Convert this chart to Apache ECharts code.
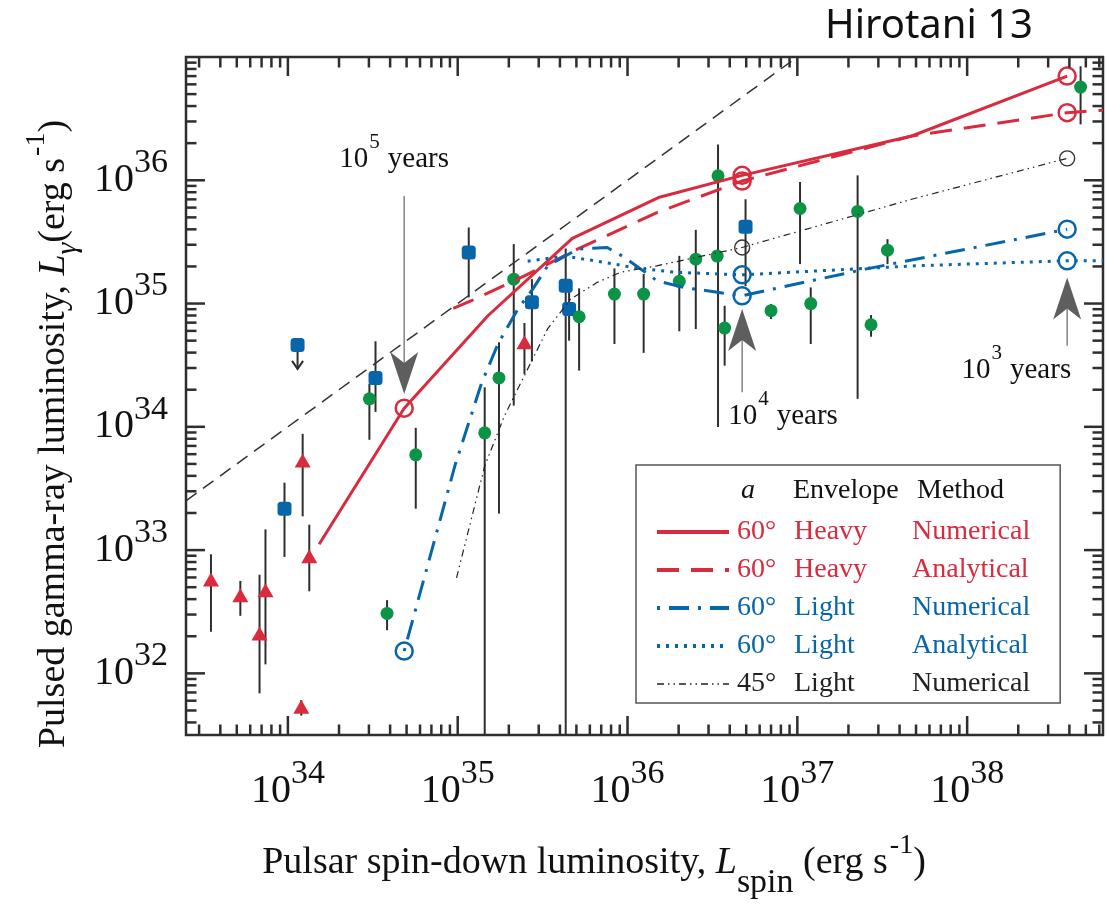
<!DOCTYPE html>
<html>
<head>
<meta charset="utf-8">
<script src="https://cdn.jsdelivr.net/npm/echarts@6/dist/echarts.min.js"></script>
<style>
  html, body { margin: 0; padding: 0; background: #fff; }
  #chart { width: 1106px; height: 905px; }
</style>
</head>
<body>
<div id="chart"></div>
<script>
// Pulsed gamma-ray luminosity vs. spin-down luminosity (log10 of erg s^-1 everywhere).

const X_MIN = 33.4, X_MAX = 38.8;
const Y_MIN = 31.5, Y_MAX = 37.0;
const xLabelPowers = [34, 35, 36, 37, 38];
const yLabelPowers = [32, 33, 34, 35, 36];
const tickDecadesX = [33, 34, 35, 36, 37, 38];
const tickDecadesY = [31, 32, 33, 34, 35, 36];
const tickMultiples = [1, 2, 3, 4, 5, 6, 7, 8, 9];

// Observed pulsars: red triangles
const triSpin  = [33.547, 33.720, 33.833, 33.868, 34.087, 34.126, 34.079, 35.393];
const triGamma = [32.761, 32.634, 32.324, 32.675, 33.727, 32.950, 31.730, 34.686];
const triLow   = [32.338, 32.467, 31.838, 32.073, 33.274, 32.666, 31.657, 34.429];
const triHigh  = [32.966, 32.750, 32.800, 33.168, 33.943, 33.206, 31.784, 34.842];

// Observed pulsars: blue squares (first one is an upper limit)
const sqSpin   = [34.057, 34.516, 33.980, 35.065, 35.437, 35.636, 35.656, 36.695];
const sqGamma  = [34.664, 34.397, 33.336, 35.414, 35.010, 35.144, 34.955, 35.622];
const sqLow    = [null,   34.121, 32.945, 35.050, 34.530, 31.000, 34.699, 35.142];
const sqHigh   = [null,   34.694, 33.547, 35.617, 35.198, 35.447, 35.117, 35.846];
const sqLimit  = [34.470, null,   null,   null,   null,   null,   null,   null];

// Observed pulsars: green dots
const dotSpin  = [34.480, 34.753, 34.584, 35.159, 35.243, 35.330, 35.715, 35.923, 36.095, 36.305, 36.402,
                  36.533, 36.528, 36.572, 36.845, 37.016, 37.079, 37.355, 37.434, 37.531, 38.668];
const dotGamma = [34.227, 33.773, 32.486, 33.951, 34.397, 35.198, 34.893, 35.077, 35.077, 35.180, 35.360,
                  36.036, 35.385, 34.801, 34.942, 35.771, 35.000, 35.747, 34.828, 35.433, 36.756];
const dotLow   = [33.895, 33.336, 32.350, 31.000, 33.296, 34.172, 34.456, 34.672, 34.600, 34.775, 34.793,
                  33.998, null,   34.496, 34.874, 35.320, 34.672, 34.227, 34.731, 35.320, 36.453];
const dotHigh  = [34.350, 33.992, 32.594, 34.321, 34.686, 35.482, 35.123, 35.285, 35.240, 35.387, 35.598,
                  36.291, null,   34.982, 34.996, 35.986, 35.131, 36.040, 34.907, 35.522, 36.925];

// Model curves
const heavyNumSpin  = [34.184, 34.685, 34.886, 35.178, 35.675, 36.182, 36.675, 37.674, 38.589];
const heavyNumGamma = [33.047, 34.151, 34.456, 34.901, 35.528, 35.860, 36.040, 36.359, 36.845];
const heavyAnaSpin  = [34.974, 35.081, 35.393, 35.705, 36.173, 36.675, 37.674, 38.589, 38.800];
const heavyAnaGamma = [34.961, 35.023, 35.225, 35.441, 35.738, 35.994, 36.359, 36.548, 36.569];
const lightNumSpin  = [34.685, 34.984, 35.139, 35.237, 35.354, 35.442, 35.529, 35.705, 35.880, 35.980,
                       36.173, 36.329, 36.675, 36.874, 37.400, 38.589];
const lightNumGamma = [32.181, 33.687, 34.348, 34.672, 34.955, 35.117, 35.304, 35.441, 35.455, 35.377,
                       35.185, 35.131, 35.063, 35.123, 35.279, 35.603];
const lightAnaSpin  = [35.412, 35.627, 35.822, 36.056, 36.290, 36.675, 37.692, 38.589, 38.800];
const lightAnaGamma = [35.344, 35.385, 35.344, 35.287, 35.253, 35.233, 35.306, 35.347, 35.347];
const light45Spin   = [34.993, 35.159, 35.276, 35.451, 35.529, 35.665, 35.822, 35.958, 36.173, 36.675, 37.674, 38.589];
const light45Gamma  = [32.775, 33.682, 34.091, 34.577, 34.794, 35.036, 35.172, 35.253, 35.306, 35.455, 35.846, 36.178];

// L_gamma = L_spin reference line
const unitSpin  = [33.4, 37.0];
const unitGamma = [33.4, 37.0];

// Characteristic ages marked along the curves
const ageExponent  = [5, 4, 3];
const ageSpin      = [34.685, 36.675, 38.589];
const ageArrowTip  = [34.267, 34.955, 35.212];
const ageArrowTail = [35.873, 34.281, 34.658];

// Legend columns
const modelAngle    = ['60°', '60°', '60°', '60°', '45°'];
const modelEnvelope = ['Heavy', 'Heavy', 'Light', 'Light', 'Light'];
const modelMethod   = ['Numerical', 'Analytical', 'Numerical', 'Analytical', 'Numerical'];

// ---------------------------------------------------------------------------
const RED = '#d92a3e', BLUE = '#0766a9', GREEN = '#0b9346', INK = '#2e2e2e', TEXT = '#111';
const SERIF = '"Liberation Serif", "Times New Roman", serif';

const modelNames = modelAngle.map((a, i) => `${a} ${modelEnvelope[i]} ${modelMethod[i]}`);
const modelColors = [RED, RED, BLUE, BLUE, '#222'];
const modelWidths = [3, 3, 3, 3, 1.2];
const modelDashes = ['solid', [22, 12], [3, 9, 20, 9], [3, 6], [7, 4, 1.5, 4, 1.5, 4]];

const pairs = (xs, ys) => xs.map((x, i) => [x, ys[i]]);
const isPow = v => Math.abs(v - Math.round(v)) < 1e-6;

function ageMarks(xs, ys) {
  return ageSpin.map(a => {
    const i = xs.findIndex(x => Math.abs(x - a) < 1e-9);
    return i < 0 ? null : [xs[i], ys[i]];
  }).filter(Boolean);
}

function barRows(xs, lo, hi) {
  const rows = [];
  xs.forEach((x, i) => { if (lo[i] != null && hi[i] != null) rows.push([x, lo[i], hi[i]]); });
  return rows;
}

const barData = [].concat(
  barRows(triSpin, triLow, triHigh),
  barRows(sqSpin, sqLow, sqHigh),
  barRows(dotSpin, dotLow, dotHigh)
);
const limitData = sqSpin.map((x, i) => sqLimit[i] == null ? null : [x, sqGamma[i], sqLimit[i]]).filter(Boolean);

function tickValues(decades, lo, hi) {
  const out = [];
  decades.forEach(d => tickMultiples.forEach(k => {
    const v = d + Math.log10(k);
    if (v > lo + 1e-9 && v < hi - 1e-9) out.push([v, k === 1 ? 1 : 0]);
  }));
  return out;
}
const xTickData = tickValues(tickDecadesX, X_MIN, X_MAX).map(t => [t[0], Y_MIN, t[1]]);
const yTickData = tickValues(tickDecadesY, Y_MIN, Y_MAX).map(t => [X_MIN, t[0], t[1]]);

const MAJOR = 19, MINOR = 10.5;

const powRich = {
  b: { fontFamily: SERIF, fontSize: 40, color: TEXT, verticalAlign: 'top', padding: [16, 0, 0, 0] },
  s: { fontFamily: SERIF, fontSize: 34, color: TEXT, verticalAlign: 'top', padding: [2, 0, 0, 0] }
};

const titleRich = {
  m:   { fontFamily: SERIF, fontSize: 38, color: TEXT, verticalAlign: 'top', padding: [12, 0, 0, 0] },
  i:   { fontFamily: SERIF, fontSize: 38, fontStyle: 'italic', color: TEXT, verticalAlign: 'top', padding: [12, 0, 0, 0] },
  sub: { fontFamily: SERIF, fontSize: 34, color: TEXT, verticalAlign: 'top', padding: [34, 0, 0, 0] },
  gsub:{ fontFamily: SERIF, fontSize: 30, fontStyle: 'italic', color: TEXT, verticalAlign: 'top', padding: [30, 0, 0, 0] },
  sup: { fontFamily: SERIF, fontSize: 28, color: TEXT, verticalAlign: 'top', padding: [0, 0, 0, 2] }
};

const ageRich = {
  b: { fontFamily: SERIF, fontSize: 29, fill: TEXT, verticalAlign: 'top', padding: [13, 0, 0, 0] },
  s: { fontFamily: SERIF, fontSize: 21, fill: TEXT, verticalAlign: 'top', padding: [0, 0, 0, 1] },
  y: { fontFamily: SERIF, fontSize: 29, fill: TEXT, verticalAlign: 'top', padding: [13, 0, 0, 8] }
};
const AGE_BASELINE = 13 + 14.5 + 9.9;
const ageLabelLayout = [
  { align: 'center', dx: -10, dy: -27 },
  { align: 'left',   dx: -14, dy: 34 },
  { align: 'right',  dx: 4,   dy: 35 }
];

function modelLine(idx, xs, ys) {
  return {
    name: modelNames[idx], type: 'line', data: pairs(xs, ys), symbol: 'none',
    lineStyle: { color: modelColors[idx], width: modelWidths[idx], type: modelDashes[idx] },
    itemStyle: { color: modelColors[idx] }, z: 4, silent: true, clip: true
  };
}

function ageCircles(xs, ys, color, size, width) {
  return {
    type: 'scatter', data: ageMarks(xs, ys), symbol: 'circle', symbolSize: size, silent: true, z: 6,
    itemStyle: { color: 'rgba(0,0,0,0)', borderColor: color, borderWidth: width, opacity: 1 }
  };
}

function markers(xs, ys, symbol, size, color) {
  return {
    type: 'scatter', data: pairs(xs, ys), symbol, symbolSize: size, silent: true, z: 3,
    itemStyle: { color, opacity: 1 }
  };
}

const option = {
  animation: false,
  backgroundColor: '#fff',
  title: {
    text: 'Hirotani 13', left: 825, top: 7, padding: 0,
    textStyle: { fontFamily: '"Noto Sans", "Open Sans", sans-serif', fontSize: 40, fontWeight: 'normal', color: '#111' }
  },
  grid: { left: 186, top: 57, width: 924, height: 680, show: true, borderColor: INK, borderWidth: 2.5, backgroundColor: 'transparent' },
  xAxis: {
    type: 'value', min: X_MIN, max: X_MAX, interval: 0.2,
    axisLine: { show: false }, axisTick: { show: false }, splitLine: { show: false },
    axisLabel: {
      interval: 0, margin: 20, rich: powRich,
      formatter: v => (isPow(v) && xLabelPowers.includes(Math.round(v))) ? `{b|10}{s|${Math.round(v)}}` : ''
    },
    name: '{m|Pulsar spin-down luminosity, }{i|L}{sub|spin}{m| (erg s}{sup|-1}{m|)}',
    nameLocation: 'middle', nameGap: 97,
    nameTextStyle: { rich: titleRich, padding: [0, 101, 0, 0] }
  },
  yAxis: {
    type: 'value', min: Y_MIN, max: Y_MAX, interval: 0.5,
    axisLine: { show: false }, axisTick: { show: false }, splitLine: { show: false },
    axisLabel: {
      interval: 0, margin: 18, rich: powRich, padding: [0, 0, 16, 0],
      formatter: v => (isPow(v) && yLabelPowers.includes(Math.round(v))) ? `{b|10}{s|${Math.round(v)}}` : ''
    },
    name: '{m|Pulsed gamma-ray luminosity, }{i|L}{gsub|γ}{m|(erg s}{sup|-1}{m|)}',
    nameLocation: 'middle', nameRotate: 90, nameGap: 101,
    nameTextStyle: { rich: titleRich, padding: [0, 76, 0, 0] }
  },
  legend: {
    data: modelNames.map((n, i) => ({
      name: n,
      textStyle: { color: modelColors[i] },
      lineStyle: { width: i < 4 ? 4 : 1.3, color: modelColors[i], type: modelDashes[i] }
    })),
    orient: 'vertical', left: 636, top: 465,
    padding: [52, 30, 4, 19], itemGap: 8, itemWidth: 72, itemHeight: 14,
    backgroundColor: '#fff', borderColor: '#555', borderWidth: 1.5, borderRadius: 0,
    selectedMode: false,
    itemStyle: { opacity: 0 },
    textStyle: {
      fontFamily: SERIF, fontSize: 28, lineHeight: 30,
      rich: {
        a: { fontFamily: SERIF, fontSize: 28, lineHeight: 30, width: 54, padding: [0, 0, 0, 3] },
        b: { fontFamily: SERIF, fontSize: 28, lineHeight: 30, width: 115, padding: [0, 0, 0, 3] },
        c: { fontFamily: SERIF, fontSize: 28, lineHeight: 30, padding: [0, 0, 0, 3] }
      }
    },
    formatter: name => {
      const i = modelNames.indexOf(name);
      return `{a|${modelAngle[i]}}{b|${modelEnvelope[i]}}{c|${modelMethod[i]}}`;
    }
  },
  graphic: [
    { type: 'text', left: 741, top: 477, z: 100, style: { text: 'a', font: `italic 28px ${SERIF}`, fill: TEXT } },
    { type: 'text', left: 793, top: 477, z: 100, style: { text: 'Envelope', font: `28px ${SERIF}`, fill: TEXT } },
    { type: 'text', left: 917, top: 477, z: 100, style: { text: 'Method', font: `28px ${SERIF}`, fill: TEXT } }
  ],
  series: [
    {
      type: 'line', data: pairs(unitSpin, unitGamma), symbol: 'none', silent: true, z: 2,
      lineStyle: { color: '#333', width: 1.5, type: [13, 8] }
    },
    {
      type: 'custom', silent: true, z: 3, data: barData,
      renderItem: (params, api) => {
        const cs = params.coordSys;
        const a = api.coord([api.value(0), api.value(2)]);
        const b = api.coord([api.value(0), api.value(1)]);
        const clampY = y => Math.max(cs.y, Math.min(cs.y + cs.height, y));
        return { type: 'line', shape: { x1: a[0], y1: clampY(a[1]), x2: b[0], y2: clampY(b[1]) },
                 style: { stroke: INK, lineWidth: 2 } };
      }
    },
    {
      type: 'custom', silent: true, z: 3, data: limitData,
      renderItem: (params, api) => {
        const p = api.coord([api.value(0), api.value(1)]);
        const q = api.coord([api.value(0), api.value(2)]);
        return { type: 'group', children: [
          { type: 'line', shape: { x1: p[0], y1: p[1] + 7, x2: q[0], y2: q[1] }, style: { stroke: INK, lineWidth: 2 } },
          { type: 'polyline', shape: { points: [[q[0] - 5.5, q[1] - 8], [q[0], q[1]], [q[0] + 5.5, q[1] - 8]] },
            style: { stroke: INK, lineWidth: 2, fill: null } }
        ] };
      }
    },
    markers(triSpin, triGamma, 'triangle', [16, 14], RED),
    markers(sqSpin, sqGamma, 'roundRect', 14, BLUE),
    markers(dotSpin, dotGamma, 'circle', 13, GREEN),

    modelLine(0, heavyNumSpin, heavyNumGamma),
    modelLine(1, heavyAnaSpin, heavyAnaGamma),
    modelLine(2, lightNumSpin, lightNumGamma),
    modelLine(3, lightAnaSpin, lightAnaGamma),
    modelLine(4, light45Spin, light45Gamma),

    ageCircles(heavyNumSpin, heavyNumGamma, RED, 17, 2.5),
    ageCircles(heavyAnaSpin, heavyAnaGamma, RED, 17, 2.5),
    ageCircles(lightNumSpin, lightNumGamma, BLUE, 17, 2.5),
    ageCircles(lightAnaSpin, lightAnaGamma, BLUE, 17, 2.5),
    ageCircles(light45Spin, light45Gamma, '#333', 15, 1.4),

    {
      type: 'custom', silent: true, z: 7,
      data: ageSpin.map((x, i) => [x, ageArrowTip[i], ageArrowTail[i]]),
      renderItem: (params, api) => {
        const i = params.dataIndex;
        const tip = api.coord([api.value(0), api.value(1)]);
        const tail = api.coord([api.value(0), api.value(2)]);
        const dir = tail[1] > tip[1] ? 1 : -1;
        const x = tip[0], L = 42, W = 14, N = 31;
        const lay = ageLabelLayout[i];
        return { type: 'group', children: [
          { type: 'line', shape: { x1: x, y1: tail[1], x2: x, y2: tip[1] + dir * N }, style: { stroke: '#8a8a8a', lineWidth: 1.6 } },
          { type: 'polygon', shape: { points: [[x, tip[1]], [x - W, tip[1] + dir * L], [x, tip[1] + dir * N], [x + W, tip[1] + dir * L]] },
            style: { fill: '#5e5e5e' } },
          { type: 'text', x: x + lay.dx, y: tail[1] + lay.dy - AGE_BASELINE,
            style: { text: `{b|10}{s|${ageExponent[i]}}{y|years}`, rich: ageRich, align: lay.align, verticalAlign: 'top' } }
        ] };
      }
    },

    {
      type: 'custom', silent: true, z: 8, data: xTickData,
      renderItem: (params, api) => {
        const cs = params.coordSys;
        const p = api.coord([api.value(0), api.value(1)]);
        const len = api.value(2) ? MAJOR : MINOR;
        const bottom = cs.y + cs.height, top = cs.y;
        return { type: 'group', children: [
          { type: 'line', shape: { x1: p[0], y1: bottom, x2: p[0], y2: bottom - len }, style: { stroke: INK, lineWidth: 2.5 } },
          { type: 'line', shape: { x1: p[0], y1: top, x2: p[0], y2: top + len }, style: { stroke: INK, lineWidth: 2.5 } }
        ] };
      }
    },
    {
      type: 'custom', silent: true, z: 8, data: yTickData,
      renderItem: (params, api) => {
        const cs = params.coordSys;
        const p = api.coord([api.value(0), api.value(1)]);
        const len = api.value(2) ? MAJOR : MINOR;
        const left = cs.x, right = cs.x + cs.width;
        return { type: 'group', children: [
          { type: 'line', shape: { x1: left, y1: p[1], x2: left + len, y2: p[1] }, style: { stroke: INK, lineWidth: 2.5 } },
          { type: 'line', shape: { x1: right, y1: p[1], x2: right - len, y2: p[1] }, style: { stroke: INK, lineWidth: 2.5 } }
        ] };
      }
    }
  ]
};

const chart = echarts.init(document.getElementById('chart'), null, { renderer: 'canvas' });
chart.setOption(option);
</script>
</body>
</html>
